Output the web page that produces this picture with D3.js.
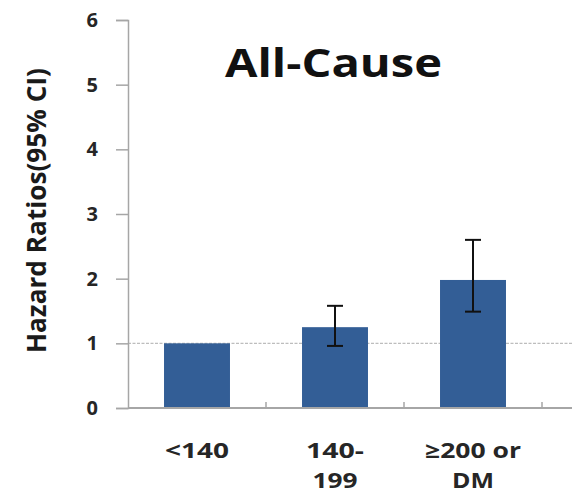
<!DOCTYPE html>
<html>
<head>
<meta charset="utf-8">
<script src="https://cdn.jsdelivr.net/npm/d3@7"></script>
<style>
  html, body { margin: 0; padding: 0; background: #fff; }
  svg { display: block; }
</style>
</head>
<body>
<svg id="chart" width="572" height="493"></svg>
<script>
// ---- Data ----
const categories = ["<140", "140-199", "≥200 or DM"];
const categoryLines = [["<140"], ["140-", "199"], ["≥200 or", "DM"]];
const hazardRatios = [1.0, 1.25, 1.98];
const ciLower = [null, 0.96, 1.49];
const ciUpper = [null, 1.58, 2.60];
const yTicks = [0, 1, 2, 3, 4, 5, 6];
const titleText = "All-Cause";
const yLabelText = "Hazard Ratios(95% CI)";
const referenceValue = 1;

// ---- Layout ----
const svg = d3.select("#chart");
const x0 = 128, x1 = 542, yTop = 20, yBottom = 408;
const font = "'Open Sans', 'DejaVu Sans', sans-serif";
const barColor = "#335e96";
const axisColor = "#a6a6a6";
const labelWidths = { "<140": 64, "140-": 58, "199": 45, "≥200 or": 96, "DM": 42 };

const y = d3.scaleLinear().domain([0, 6]).range([yBottom, yTop]);
const x = d3.scaleBand().domain(categories).range([x0, x1])
  .paddingInner(0.522).paddingOuter(0.261);

// reference line at HR = 1
svg.append("line")
  .attr("x1", x0).attr("x2", 572)
  .attr("y1", y(referenceValue)).attr("y2", y(referenceValue))
  .attr("stroke", "#bdbdbd").attr("stroke-width", 1.2)
  .attr("stroke-dasharray", "3,1.5");

// bars
svg.append("g").selectAll("rect").data(categories).join("rect")
  .attr("x", d => x(d))
  .attr("width", x.bandwidth())
  .attr("y", (d, i) => y(hazardRatios[i]))
  .attr("height", (d, i) => y(0) - y(hazardRatios[i]))
  .attr("fill", barColor);

// error bars
const eg = svg.append("g").attr("stroke", "#111").attr("stroke-width", 2);
categories.forEach((c, i) => {
  if (ciLower[i] == null) return;
  const cx = x(c) + x.bandwidth() / 2;
  eg.append("line").attr("x1", cx).attr("x2", cx)
    .attr("y1", y(ciLower[i])).attr("y2", y(ciUpper[i]));
  [ciLower[i], ciUpper[i]].forEach(v => {
    eg.append("line").attr("x1", cx - 8).attr("x2", cx + 8)
      .attr("y1", y(v)).attr("y2", y(v));
  });
});

// y axis
const yAxis = d3.axisLeft(y).tickValues(yTicks).tickSize(12).tickPadding(18)
  .tickFormat(d3.format("d"));
const gy = svg.append("g").attr("transform", `translate(${x0},0)`).call(yAxis);
gy.select(".domain").attr("stroke", axisColor).attr("stroke-width", 1.5);
gy.selectAll(".tick line").attr("stroke", axisColor).attr("stroke-width", 1.5);
gy.selectAll(".tick text")
  .attr("font-family", font).attr("font-weight", "bold")
  .attr("font-size", 20).attr("fill", "#262626");

// x axis line
svg.append("line")
  .attr("x1", x0).attr("x2", 572)
  .attr("y1", yBottom).attr("y2", yBottom)
  .attr("stroke", axisColor).attr("stroke-width", 1.8);

// category boundary ticks (pointing up)
const step = x.step();
svg.append("g").selectAll("line").data(categories).join("line")
  .attr("x1", (d, i) => x0 + (i + 1) * step)
  .attr("x2", (d, i) => x0 + (i + 1) * step)
  .attr("y1", yBottom).attr("y2", yBottom - 6)
  .attr("stroke", axisColor).attr("stroke-width", 1.5);

// category labels
const lg = svg.append("g");
categories.forEach((c, i) => {
  const cx = x(c) + x.bandwidth() / 2;
  categoryLines[i].forEach((line, j) => {
    lg.append("text")
      .attr("x", cx).attr("y", 458 + j * 30)
      .attr("text-anchor", "middle")
      .attr("font-family", font).attr("font-weight", "bold")
      .attr("font-size", 21).attr("fill", "#262626")
      .attr("textLength", labelWidths[line]).attr("lengthAdjust", "spacingAndGlyphs")
      .text(line);
  });
});

// title
svg.append("text")
  .attr("x", 333.5).attr("y", 77)
  .attr("text-anchor", "middle")
  .attr("font-family", font).attr("font-weight", "bold")
  .attr("font-size", 40).attr("fill", "#111")
  .attr("textLength", 217).attr("lengthAdjust", "spacingAndGlyphs")
  .text(titleText);

// y label
svg.append("text")
  .attr("transform", `translate(46,210.5) rotate(-90)`)
  .attr("text-anchor", "middle")
  .attr("font-family", font).attr("font-weight", "bold")
  .attr("font-size", 27).attr("fill", "#1a1a1a")
  .attr("textLength", 285).attr("lengthAdjust", "spacingAndGlyphs")
  .text(yLabelText);
</script>
</body>
</html>
